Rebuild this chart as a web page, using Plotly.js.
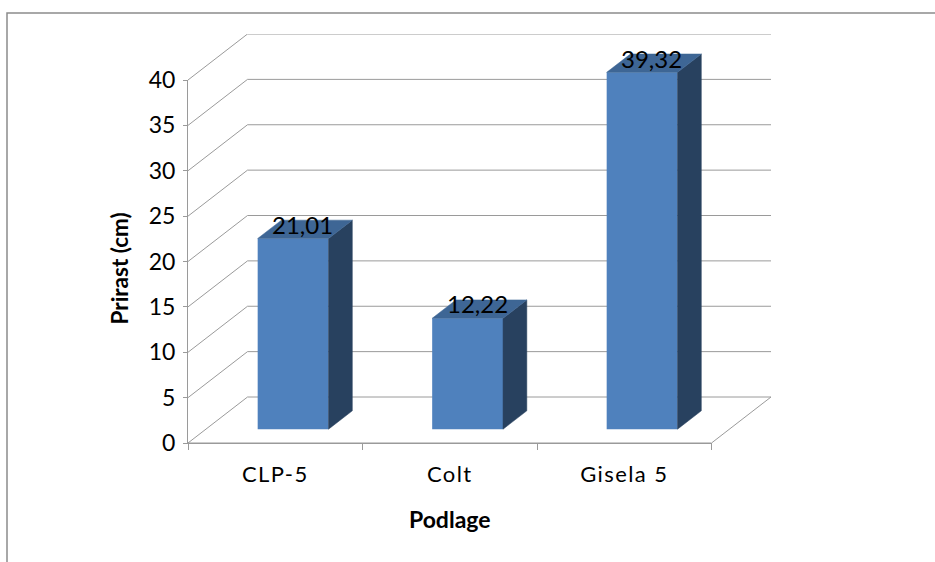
<!DOCTYPE html>
<html>
<head>
<meta charset="utf-8">
<script src="https://cdn.plot.ly/plotly-3.0.1.min.js"></script>
<style>
html,body{margin:0;padding:0;background:#fff;overflow:hidden}
#chart{width:935px;height:562px}
#chart .xtick text{letter-spacing:1.4px}
</style>
</head>
<body>
<div id="chart"></div>
<script>
// Rootstock growth, drawn as oblique 3D columns
const categories = ['CLP-5', 'Colt', 'Gisela 5'];
const growth = [21.01, 12.22, 39.32];
const gridValues = [0, 5, 10, 15, 20, 25, 30, 35, 40];
const axisLabel = {x: 'Podlage', y: 'Prirast (cm)'};

// Front plane of the chart and the depth vector behind it, in pixels
const W = 935, H = 562;
const front = {l: 188, r: 711.5, t: 80, b: 443};
const back = {dx: 59.5, dy: 46};
const outer = {r: front.r + back.dx, t: front.t - back.dy};

// The same depth vector in axis units, and where a column sits along it
const wall = {
  x: back.dx / ((front.r - front.l) / 3),
  y: back.dy / ((front.b - front.t) / 40)
};
const depth = {front: 0.30, back: 0.70};
const colWidth = 0.406;

const FONT = 'Lato, Carlito, Calibri, sans-serif';
const GRID = '#9a9a9a';
const FACE = '#4f81bd', SIDE = '#28415f', TOP = '#3e6695';

// Oblique projection: category position, value and depth to axis coordinates
const px = (c, d) => c + d * wall.x;
const py = (v, d) => v + d * wall.y;

const traces = [];

// Baseline on the visible axes, which also brings that axis pair into the plot
traces.push({
  type: 'scatter', mode: 'lines', xaxis: 'x', yaxis: 'y',
  x: [0, 3], y: [0, 0],
  line: {color: GRID, width: 1}, hoverinfo: 'skip', showlegend: false
});

// Wall and floor lines
gridValues.forEach(v => {
  traces.push({
    type: 'scatter', mode: 'lines', xaxis: 'x2', yaxis: 'y2',
    x: [0, px(0, 1), px(3, 1)], y: [v, py(v, 1), py(v, 1)],
    line: {color: GRID, width: 1}, hoverinfo: 'skip', showlegend: false
  });
});
traces.push({
  type: 'scatter', mode: 'lines', xaxis: 'x2', yaxis: 'y2',
  x: [3, px(3, 1)], y: [0, py(0, 1)],
  line: {color: GRID, width: 1}, hoverinfo: 'skip', showlegend: false
});

// Front faces of the columns
traces.push({
  type: 'bar', xaxis: 'x3', yaxis: 'y3',
  x: categories.map((_, i) => px(i + 0.5, depth.front)),
  y: growth,
  base: categories.map(() => py(0, depth.front)),
  width: colWidth,
  marker: {color: FACE, line: {width: 0}},
  hoverinfo: 'skip', showlegend: false
});

// Side and top faces
const polygon = (xs, ys, color) => ({
  type: 'scatter', mode: 'lines', xaxis: 'x3', yaxis: 'y3',
  x: xs, y: ys, fill: 'toself', fillcolor: color,
  line: {color: color, width: 0.5}, hoverinfo: 'skip', showlegend: false
});
growth.forEach((v, i) => {
  const left = i + 0.5 - colWidth / 2, right = i + 0.5 + colWidth / 2;
  traces.push(polygon(
    [px(right, depth.front), px(right, depth.back), px(right, depth.back), px(right, depth.front), px(right, depth.front)],
    [py(0, depth.front), py(0, depth.back), py(v, depth.back), py(v, depth.front), py(0, depth.front)],
    SIDE));
  traces.push(polygon(
    [px(left, depth.front), px(right, depth.front), px(right, depth.back), px(left, depth.back), px(left, depth.front)],
    [py(v, depth.front), py(v, depth.front), py(v, depth.back), py(v, depth.back), py(v, depth.front)],
    TOP));
});

// Value labels over the top faces, with a decimal comma
const annotations = growth.map((v, i) => ({
  x: px(i + 0.5, 0.46), y: py(v, 0.46), xref: 'x3', yref: 'y3',
  text: v.toFixed(2).replace('.', ','), showarrow: false, yshift: 7,
  font: {family: FONT, size: 24, color: '#000'}
}));

// Vertical axis title, centred a little below the middle of the value axis
const plotW = outer.r - front.l, plotH = front.b - outer.t;
annotations.push({
  xref: 'paper', yref: 'paper', xanchor: 'center', yanchor: 'middle',
  x: (119 - front.l) / plotW, y: (front.b - 268.5) / plotH,
  text: axisLabel.y, textangle: -90, showarrow: false,
  font: {family: FONT, size: 22.5, weight: 'bold', color: '#000'}
});

const hidden = {visible: false, showgrid: false, zeroline: false};
const wideX = [0, 3 + wall.x], wideY = [0, 40 + wall.y];

const layout = {
  width: W, height: H,
  margin: {l: front.l, r: W - outer.r, t: outer.t, b: H - front.b, pad: 0},
  paper_bgcolor: '#fff', plot_bgcolor: 'rgba(0,0,0,0)',
  showlegend: false,
  // Visible axes span the front plane only
  xaxis: {
    domain: [0, (front.r - front.l) / plotW], range: [0, 3], anchor: 'y',
    showgrid: false, zeroline: false,
    showline: true, linecolor: GRID, linewidth: 1,
    tickmode: 'array', tickvals: [0.5, 1.5, 2.5], ticktext: categories, ticks: '',
    ticklabelstandoff: 12,
    minor: {tickmode: 'array', tickvals: [0, 1, 2, 3], ticks: 'outside', ticklen: 6, tickcolor: GRID, tickwidth: 1, showgrid: false},
    tickfont: {family: FONT, size: 22, color: '#000'},
    title: {text: axisLabel.x, font: {family: FONT, size: 23, weight: 'bold', color: '#000'}, standoff: 25}
  },
  yaxis: {
    domain: [0, (front.b - front.t) / plotH], range: [0, 40], anchor: 'x',
    showgrid: false, zeroline: false,
    showline: true, linecolor: GRID, linewidth: 1,
    tickmode: 'array', tickvals: gridValues, ticks: 'outside', ticklen: 4, tickcolor: GRID, tickwidth: 1,
    tickfont: {family: FONT, size: 23, color: '#000'},
    ticklabelstandoff: 3
  },
  // Full-depth axes carry the drawn marks
  xaxis2: Object.assign({range: wideX, domain: [0, 1], anchor: 'y2'}, hidden),
  yaxis2: Object.assign({range: wideY, domain: [0, 1], anchor: 'x2'}, hidden),
  xaxis3: Object.assign({range: wideX, overlaying: 'x2', anchor: 'y3'}, hidden),
  yaxis3: Object.assign({range: wideY, overlaying: 'y2', anchor: 'x3'}, hidden),
  annotations: annotations,
  shapes: [{
    // Chart frame, only its top and left edges fall inside the page
    type: 'rect', xref: 'paper', yref: 'paper', layer: 'below',
    x0: (7 - front.l) / plotW, x1: (W + 10 - front.l) / plotW,
    y0: (front.b - (H + 10)) / plotH, y1: (front.b - 13) / plotH,
    line: {color: '#8c8c8c', width: 1.5}
  }]
};

Plotly.newPlot('chart', traces, layout, {displayModeBar: false, staticPlot: true});
</script>
</body>
</html>
